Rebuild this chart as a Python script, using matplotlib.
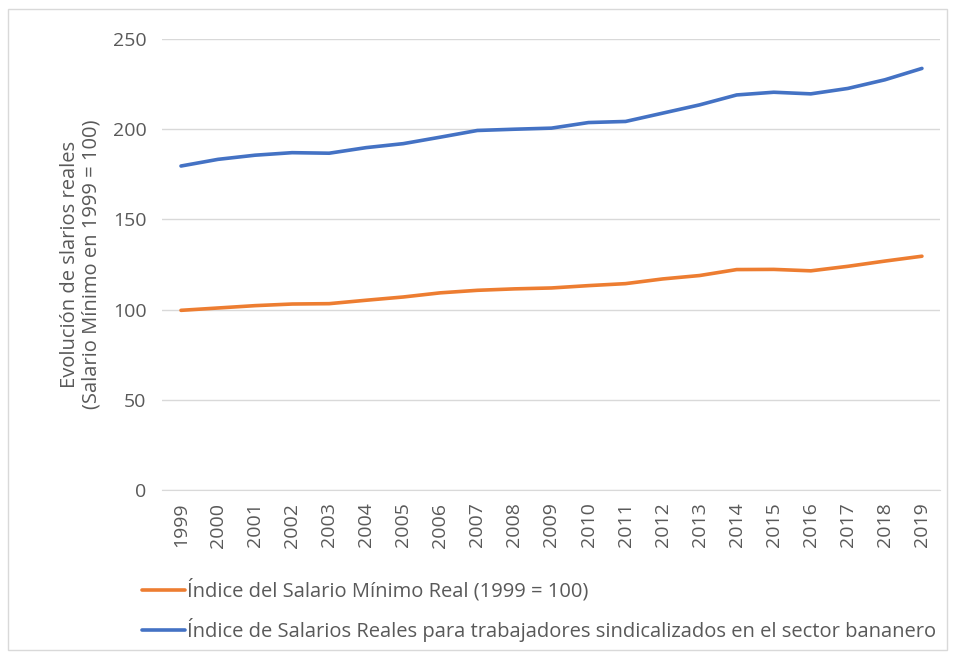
import matplotlib
matplotlib.use('Agg')
import matplotlib.pyplot as plt
from matplotlib.patches import Rectangle

# datos
anios = [str(a) for a in range(1999, 2020)]
salario_minimo = [99.6, 100.9, 102.2, 103.1, 103.3, 105.2, 107.0, 109.3, 110.7, 111.5, 112.0,
                  113.3, 114.4, 117.0, 118.9, 122.2, 122.3, 121.5, 124.0, 126.9, 129.6]
salario_bananero = [179.6, 183.3, 185.6, 187.0, 186.7, 189.8, 192.0, 195.6, 199.3, 200.0, 200.6,
                    203.7, 204.3, 208.9, 213.5, 219.0, 220.5, 219.6, 222.6, 227.4, 233.7]
yticks = [0, 50, 100, 150, 200, 250]
lab_minimo = 'Índice del Salario Mínimo Real (1999 = 100)'
lab_bananero = 'Índice de Salarios Reales para trabajadores sindicalizados en el sector bananero'
ylabel = 'Evolución de slarios reales\n(Salario Mínimo en 1999 = 100)'

plt.rcParams['font.family'] = ['Open Sans', 'Lato', 'DejaVu Sans']
gris = '#595959'

fig = plt.figure(figsize=(9.54, 6.58), dpi=100)
fig.patches.append(Rectangle((0.008, 0.012), 0.985, 0.975, transform=fig.transFigure,
                             fill=False, edgecolor='#D9D9D9', linewidth=1))
ax = fig.add_axes([0.1703, 0.2553, 0.8155, 0.6854])

x = range(len(anios))
ax.plot(x, salario_minimo, color='#ED7D31', linewidth=2.6, label=lab_minimo,
        solid_capstyle='round')
ax.plot(x, salario_bananero, color='#4472C4', linewidth=2.6, label=lab_bananero,
        solid_capstyle='round')

ax.set_xlim(-0.5, len(anios) - 0.5)
ax.set_ylim(0, 250)
ax.set_yticks(yticks)
ax.set_xticks(list(x))
ax.set_xticklabels(anios, rotation=90)
ax.tick_params(axis='both', length=0, labelsize=14, colors=gris)
ax.tick_params(axis='y', pad=11.5)
ax.tick_params(axis='x', pad=9)
ax.grid(axis='y', color='#D9D9D9', linewidth=1)
ax.set_axisbelow(True)
for s in ['top', 'right', 'left']:
    ax.spines[s].set_visible(False)
ax.spines['bottom'].set_color('#D9D9D9')
ax.set_ylabel(ylabel, fontsize=14.5, color=gris, labelpad=8, linespacing=1.1)

fig.legend(loc='upper left', bbox_to_anchor=(0.140, 0.132), ncol=1, frameon=False,
           fontsize=14.5, handlelength=2.15, handletextpad=0.1, labelspacing=0.82,
           labelcolor=gris, borderaxespad=0)

fig.savefig('out.png', dpi=100)
